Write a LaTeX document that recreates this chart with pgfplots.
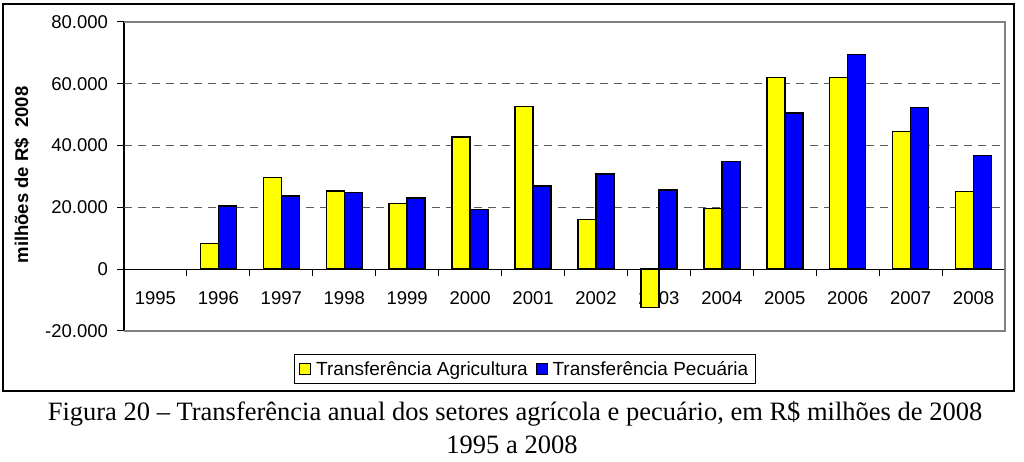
\documentclass[border=0pt]{standalone}
\usepackage{fontspec}
\setmainfont{Liberation Sans}
\newfontfamily\capfont{Liberation Serif}
\usepackage{pgfplots}
\pgfplotsset{compat=1.18}
\definecolor{byel}{RGB}{255,255,0}
\definecolor{bblue}{RGB}{0,0,255}
\definecolor{framegray}{RGB}{128,128,128}
\definecolor{gridgray}{RGB}{90,90,90}

\begin{document}
\begin{tikzpicture}[x=1bp,y=1bp]
\path[use as bounding box] (0,0) rectangle (1024,462);
\draw[line width=1.5bp] (3,71) rectangle (1014,458);
\begin{axis}[
  at={(124bp,131bp)}, anchor=south west,
  width=881bp, height=309bp, scale only axis,
  xmin=-0.5, xmax=13.5, ymin=-20000, ymax=80000,
  scaled y ticks=false,
  axis x line=middle, axis y line=left,
  axis line style={-, black, line width=1.2bp},
  hide obscured x ticks=false, hide obscured y ticks=false,
  clip=false,
  xtick={-0.5,0.5,...,13.5},
  x tick label as interval,
  xticklabels={1995,1996,1997,1998,1999,2000,2001,2002,2003,2004,2005,2006,2007,2008,{}},
  xticklabel style={yshift=-12bp},
  ytick={-20000,0,80000}, yticklabels={-20.000,0,80.000},
  extra y ticks={20000,40000,60000}, extra y tick labels={20.000,40.000,60.000},
  extra y tick style={grid=major},
  major grid style={dash pattern=on 8bp off 6bp, gridgray, line width=1.1bp},
  tick align=outside, major tick length=7bp,
  tick style={black, line width=1bp},
  tick label style={font=\fontsize{18.5bp}{20bp}\selectfont},
  yticklabel style={xshift=-5.5bp},
  ybar=0pt, bar width=18bp,
  legend columns=2,
  legend style={at={(0.455,-0.123)}, anchor=center, draw=black, line width=0.8bp,
    font=\fontsize{19bp}{21bp}\selectfont, inner xsep=5bp, inner ysep=5bp,
    /tikz/every odd column/.append style={column sep=3bp},
    /tikz/every even column/.append style={column sep=6bp}},
  legend image code/.code={\draw[#1, draw=black, line width=0.8bp] (0bp,-5.5bp) rectangle (11bp,5.5bp);},
]
\addplot[fill=byel, draw=black, line width=1.5bp] coordinates {
 (1,8300) (2,29700) (3,25300) (4,21300) (5,42800) (6,52700)
 (7,16100) (8,-12400) (9,19600) (10,62000) (11,62000) (12,44600) (13,25200)};
\addplot[fill=bblue, draw=black, line width=1.5bp] coordinates {
 (1,20500) (2,23700) (3,24800) (4,23100) (5,19300) (6,27000)
 (7,30800) (8,25700) (9,34800) (10,50600) (11,69500) (12,52400) (13,36800)};
\legend{Transferência Agricultura, Transferência Pecuária}
\draw[framegray, line width=1.8bp] (rel axis cs:0,1) -- (rel axis cs:1,1) -- (rel axis cs:1,0) -- (rel axis cs:0,0);
\end{axis}
\node[rotate=90, font=\bfseries\fontsize{18.5bp}{20bp}\selectfont] at (22,287) {milhões de R\$\ \ 2008};
\node[anchor=base, font=\capfont\fontsize{26.5bp}{30bp}\selectfont] at (515,41) {Figura 20 – Transferência anual dos setores agrícola e pecuário, em R\$ milhões de 2008};
\node[anchor=base, font=\capfont\fontsize{26.5bp}{30bp}\selectfont] at (512,8) {1995 a 2008};
\end{tikzpicture}
\end{document}
